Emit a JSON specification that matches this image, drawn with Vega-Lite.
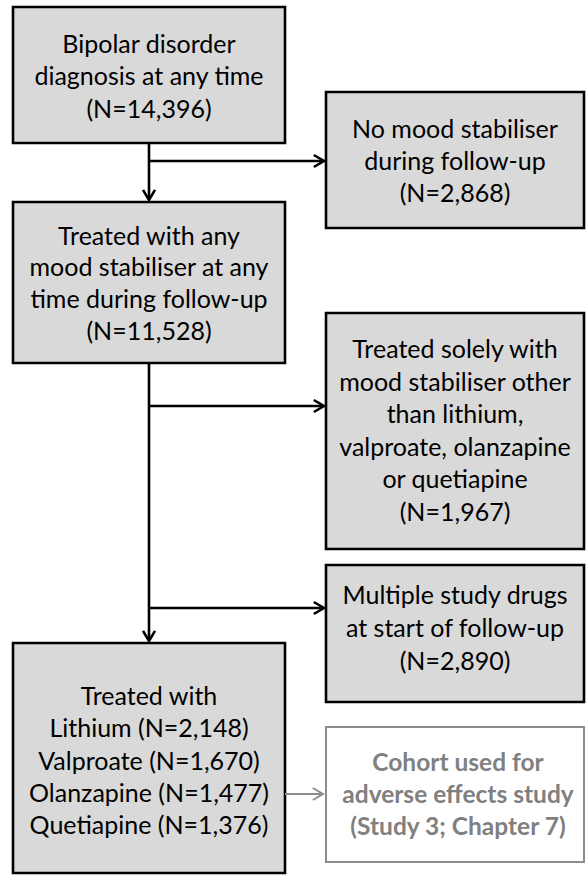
{
  "$schema": "https://vega.github.io/schema/vega-lite/v6.json",
  "width": 587,
  "height": 876,
  "padding": 0,
  "autosize": "none",
  "background": "white",
  "config": {"view": {"stroke": null}},
  "datasets": {
    "boxes": [
      {"x1": 13, "x2": 285, "y1": 7, "y2": 143, "kind": "main"},
      {"x1": 326, "x2": 584, "y1": 92, "y2": 228, "kind": "main"},
      {"x1": 13, "x2": 285, "y1": 202, "y2": 363, "kind": "main"},
      {"x1": 326, "x2": 584, "y1": 313, "y2": 549, "kind": "main"},
      {"x1": 326, "x2": 584, "y1": 565, "y2": 702, "kind": "main"},
      {"x1": 13, "x2": 285, "y1": 643, "y2": 873, "kind": "main"},
      {"x1": 326, "x2": 584, "y1": 727, "y2": 862, "kind": "cohort"}
    ],
    "labels": [
      {"x": 149, "y": 45, "text": "Bipolar disorder", "kind": "main"},
      {"x": 149, "y": 77, "text": "diagnosis at any time", "kind": "main"},
      {"x": 149, "y": 110, "text": "(N=14,396)", "kind": "main"},
      {"x": 455, "y": 130, "text": "No mood stabiliser", "kind": "main"},
      {"x": 455, "y": 162, "text": "during follow-up", "kind": "main"},
      {"x": 455, "y": 194, "text": "(N=2,868)", "kind": "main"},
      {"x": 149, "y": 237, "text": "Treated with any", "kind": "main"},
      {"x": 149, "y": 268, "text": "mood stabiliser at any", "kind": "main"},
      {"x": 149, "y": 300, "text": "time during follow-up", "kind": "main"},
      {"x": 149, "y": 332, "text": "(N=11,528)", "kind": "main"},
      {"x": 455, "y": 350, "text": "Treated solely with", "kind": "main"},
      {"x": 455, "y": 383, "text": "mood stabiliser other", "kind": "main"},
      {"x": 455, "y": 415, "text": "than lithium,", "kind": "main"},
      {"x": 455, "y": 448, "text": "valproate, olanzapine", "kind": "main"},
      {"x": 455, "y": 480, "text": "or quetiapine", "kind": "main"},
      {"x": 455, "y": 513, "text": "(N=1,967)", "kind": "main"},
      {"x": 455, "y": 596, "text": "Multiple study drugs", "kind": "main"},
      {"x": 455, "y": 629, "text": "at start of follow-up", "kind": "main"},
      {"x": 455, "y": 662, "text": "(N=2,890)", "kind": "main"},
      {"x": 149, "y": 697, "text": "Treated with", "kind": "main"},
      {"x": 149, "y": 729, "text": "Lithium (N=2,148)", "kind": "main"},
      {"x": 149, "y": 762, "text": "Valproate (N=1,670)", "kind": "main"},
      {"x": 149, "y": 794, "text": "Olanzapine (N=1,477)", "kind": "main"},
      {"x": 149, "y": 826, "text": "Quetiapine (N=1,376)", "kind": "main"},
      {"x": 458, "y": 764, "text": "Cohort used for", "kind": "cohort"},
      {"x": 458, "y": 796, "text": "adverse effects study", "kind": "cohort"},
      {"x": 458, "y": 828, "text": "(Study 3; Chapter 7)", "kind": "cohort"}
    ],
    "links": [
      {"x": 149, "y": 143, "x2": 149, "y2": 199, "kind": "main"},
      {"x": 149, "y": 161, "x2": 323, "y2": 161, "kind": "main"},
      {"x": 149, "y": 363, "x2": 149, "y2": 640, "kind": "main"},
      {"x": 149, "y": 406, "x2": 323, "y2": 406, "kind": "main"},
      {"x": 149, "y": 608, "x2": 323, "y2": 608, "kind": "main"},
      {"x": 285, "y": 794, "x2": 322, "y2": 794, "kind": "cohort"}
    ],
    "heads": [
      {"x": 324, "y": 161, "dir": "right", "kind": "main"},
      {"x": 149, "y": 200, "dir": "down", "kind": "main"},
      {"x": 324, "y": 406, "dir": "right", "kind": "main"},
      {"x": 324, "y": 608, "dir": "right", "kind": "main"},
      {"x": 149, "y": 641, "dir": "down", "kind": "main"},
      {"x": 323, "y": 794, "dir": "right", "kind": "cohort"}
    ]
  },
  "layer": [
    {
      "data": {"name": "boxes"},
      "mark": {"type": "rect"},
      "encoding": {
        "x": {"field": "x1", "type": "quantitative", "scale": {"domain": [0, 587], "nice": false, "zero": false}, "axis": null},
        "x2": {"field": "x2"},
        "y": {"field": "y1", "type": "quantitative", "scale": {"domain": [0, 876], "nice": false, "zero": false, "reverse": true}, "axis": null},
        "y2": {"field": "y2"},
        "fill": {"field": "kind", "type": "nominal", "scale": {"domain": ["main", "cohort"], "range": ["#d9d9d9", "#ffffff"]}, "legend": null},
        "stroke": {"field": "kind", "type": "nominal", "scale": {"domain": ["main", "cohort"], "range": ["#000000", "#8c8c8c"]}, "legend": null},
        "strokeWidth": {"field": "kind", "type": "nominal", "scale": {"domain": ["main", "cohort"], "range": [2.6, 2]}, "legend": null}
      }
    },
    {
      "data": {"name": "links"},
      "mark": {"type": "rule"},
      "encoding": {
        "x": {"field": "x", "type": "quantitative", "scale": {"domain": [0, 587], "nice": false, "zero": false}, "axis": null},
        "x2": {"field": "x2"},
        "y": {"field": "y", "type": "quantitative", "scale": {"domain": [0, 876], "nice": false, "zero": false, "reverse": true}, "axis": null},
        "y2": {"field": "y2"},
        "color": {"field": "kind", "type": "nominal", "scale": {"domain": ["main", "cohort"], "range": ["#000000", "#8c8c8c"]}, "legend": null},
        "strokeWidth": {"field": "kind", "type": "nominal", "scale": {"domain": ["main", "cohort"], "range": [2.6, 2]}, "legend": null}
      }
    },
    {
      "data": {"name": "heads"},
      "mark": {"type": "point", "filled": false, "opacity": 1, "strokeJoin": "miter"},
      "encoding": {
        "x": {"field": "x", "type": "quantitative", "scale": {"domain": [0, 587], "nice": false, "zero": false}, "axis": null},
        "y": {"field": "y", "type": "quantitative", "scale": {"domain": [0, 876], "nice": false, "zero": false, "reverse": true}, "axis": null},
        "shape": {"field": "dir", "type": "nominal", "scale": {"domain": ["right", "down"], "range": ["M-1.7,-1L0,0L-1.7,1", "M-1,-1.7L0,0L1,-1.7"]}, "legend": null},
        "color": {"field": "kind", "type": "nominal", "scale": {"domain": ["main", "cohort"], "range": ["#000000", "#8c8c8c"]}, "legend": null},
        "size": {"value": 144},
        "strokeWidth": {"field": "kind", "type": "nominal", "scale": {"domain": ["main", "cohort"], "range": [2.6, 2]}, "legend": null}
      }
    },
    {
      "data": {"name": "labels"},
      "transform": [{"filter": "datum.kind === 'main'"}],
      "mark": {"type": "text", "font": "Lato", "fontSize": 25, "baseline": "middle", "align": "center"},
      "encoding": {
        "x": {"field": "x", "type": "quantitative", "scale": {"domain": [0, 587], "nice": false, "zero": false}, "axis": null},
        "y": {"field": "y", "type": "quantitative", "scale": {"domain": [0, 876], "nice": false, "zero": false, "reverse": true}, "axis": null},
        "text": {"field": "text"},
        "color": {"value": "#000000"}
      }
    },
    {
      "data": {"name": "labels"},
      "transform": [{"filter": "datum.kind === 'cohort'"}],
      "mark": {"type": "text", "font": "Lato", "fontSize": 24.5, "fontWeight": "bold", "baseline": "middle", "align": "center"},
      "encoding": {
        "x": {"field": "x", "type": "quantitative", "scale": {"domain": [0, 587], "nice": false, "zero": false}, "axis": null},
        "y": {"field": "y", "type": "quantitative", "scale": {"domain": [0, 876], "nice": false, "zero": false, "reverse": true}, "axis": null},
        "text": {"field": "text"},
        "color": {"value": "#808080"}
      }
    }
  ]
}
